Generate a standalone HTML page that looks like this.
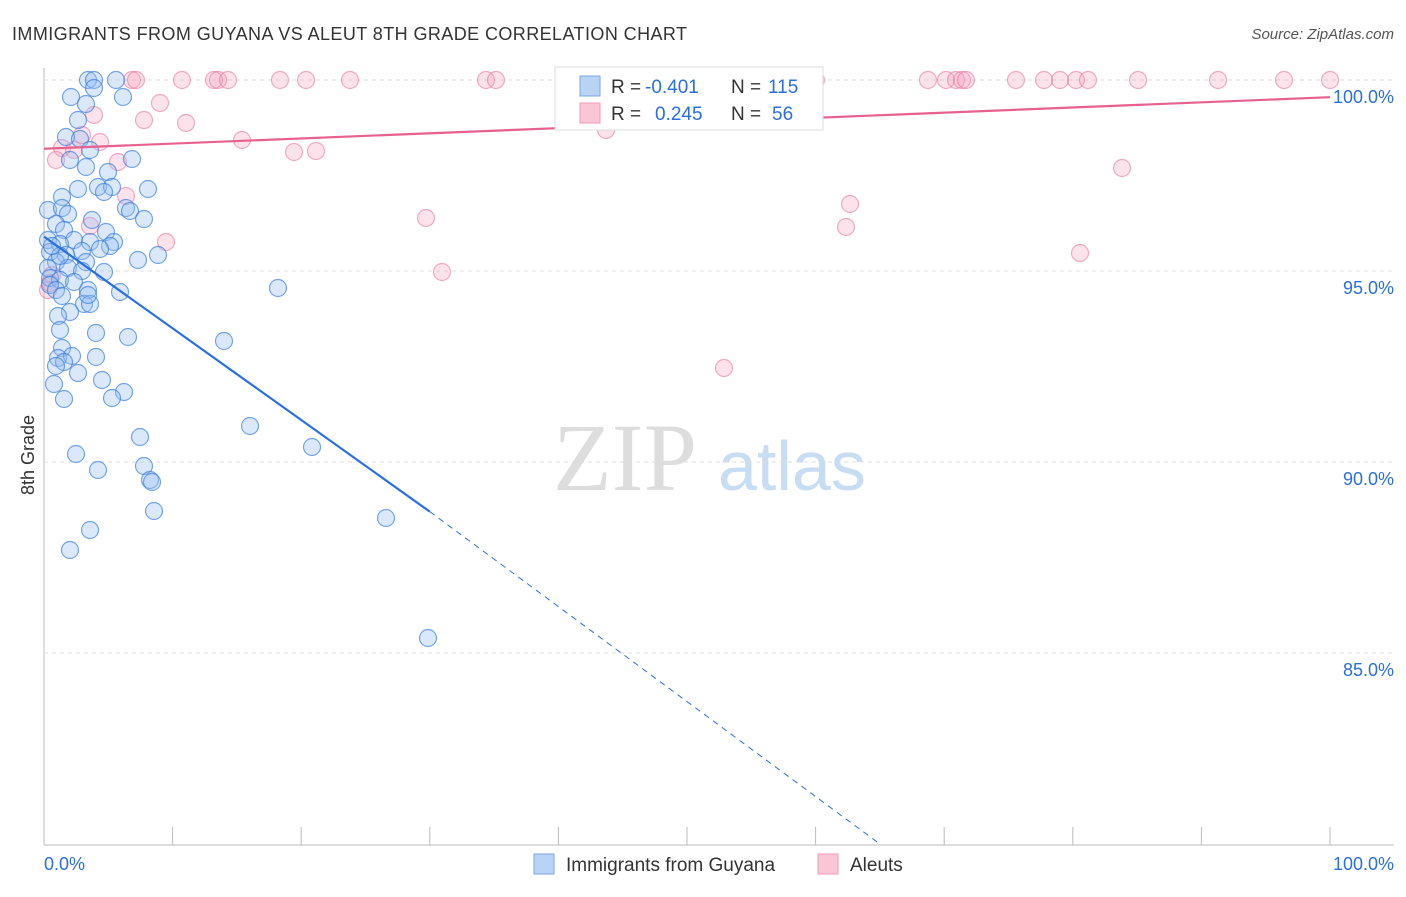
<!DOCTYPE html>
<html><head><meta charset="utf-8"><style>
body{margin:0;background:#fff;font-family:"Liberation Sans",sans-serif}
</style></head><body>
<svg id="chart" width="1406" height="892" xmlns="http://www.w3.org/2000/svg" font-family="Liberation Sans, sans-serif">
<text x="12" y="40" font-size="18" fill="#333" textLength="675">IMMIGRANTS FROM GUYANA VS ALEUT 8TH GRADE CORRELATION CHART</text>
<text x="1394" y="39" font-size="15" fill="#555" text-anchor="end" font-style="italic">Source: ZipAtlas.com</text>
<text x="553" y="490" font-size="96" fill="#ddd" font-family="Liberation Serif, serif">ZIP</text>
<text x="718" y="490" font-size="70" fill="#c8dcf2">atlas</text>
<text transform="translate(34,455) rotate(-90)" font-size="18" fill="#333" text-anchor="middle">8th Grade</text>
<g id="grid"></g><g id="pts"></g><g id="lines"></g>
<g>
<rect x="555" y="67" width="268" height="63" fill="#fff" stroke="#ddd"/>
<rect x="580" y="76" width="20" height="20" fill="#b9d3f5" stroke="#7aa7e6"/>
<rect x="580" y="103" width="20" height="20" fill="#f9c6d6" stroke="#f09ab6"/>
<text x="611" y="93" font-size="19" fill="#333">R =</text>
<text x="645" y="93" font-size="19" fill="#2a6fdb">-0.401</text>
<text x="731" y="93" font-size="19" fill="#333">N =</text>
<text x="768" y="93" font-size="19" fill="#2a6fdb">115</text>
<text x="611" y="120" font-size="19" fill="#333">R =</text>
<text x="655" y="120" font-size="19" fill="#2a6fdb">0.245</text>
<text x="731" y="120" font-size="19" fill="#333">N =</text>
<text x="772" y="120" font-size="19" fill="#2a6fdb">56</text>
</g>
<g>
<rect x="534" y="854" width="20" height="20" fill="#b9d3f5" stroke="#7aa7e6"/>
<text x="566" y="871" font-size="19" fill="#333">Immigrants from Guyana</text>
<rect x="818" y="854" width="20" height="20" fill="#f9c6d6" stroke="#f09ab6"/>
<text x="850" y="871" font-size="19" fill="#333">Aleuts</text>
</g>
<text x="44" y="870" font-size="18" fill="#2a6fdb">0.0%</text>
<text x="1394" y="870" font-size="18" fill="#2a6fdb" text-anchor="end">100.0%</text>
</svg>
<script>
const yTicks=[100,95,90,85];
const blueX=[88,94,116,94,71,123,86,78,66,80,90,70,132,86,108,98,112,148,104,62,78,126,130,48,62,92,68,144,56,64,106,74,48,60,90,114,110,100,50,82,66,158,138,56,86,48,68,82,104,50,60,74,50,56,88,120,62,84,90,278,70,58,60,96,128,224,62,58,72,96,64,56,78,102,54,124,112,64,140,250,312,76,144,98,150,152,154,386,90,70,428,88,60,52].map(p=>(p-44)/12.86);
const blueY=[80,80,80,88,97,97,104,120,137,139,150,160,159,167,172,187,187,189,192,197,189,208,211,210,208,220,214,219,224,230,232,240,240,244,242,242,246,249,252,251,255,255,260,262,262,268,268,271,272,278,280,282,285,290,290,292,296,304,304,288,312,316,330,333,337,341,348,358,356,357,362,366,373,380,384,392,398,399,437,426,447,454,466,470,480,482,511,518,530,550,638,295,256,246].map(p=>100-(p-80)/38.2);
const pinkX=[132,136,182,214,218,228,280,306,350,486,496,650,760,816,928,946,956,962,966,1016,1044,1060,1076,1088,1138,1218,1284,1330,160,94,144,186,82,242,62,74,56,100,118,294,316,606,1122,126,90,850,846,426,166,442,1080,724,48,52,50].map(p=>(p-44)/12.86);
const pinkY=[80,80,80,80,80,80,80,80,80,80,80,80,80,80,80,80,80,80,80,80,80,80,80,80,80,80,80,80,103,115,120,123,135,140,148,150,160,142,162,152,151,130,168,196,226,204,227,218,242,272,253,368,290,275,283].map(p=>100-(p-80)/38.2);
const blueTrend=[[0,95.9],[30,88.7],[65,80]];
const pinkTrend=[[0,98.2],[100,99.55]];
const sx=v=>44+v*12.86, sy=v=>80+(100-v)*38.2;
const NS="http://www.w3.org/2000/svg";
function mk(t,a,p){const e=document.createElementNS(NS,t);for(const k in a)e.setAttribute(k,a[k]);p.appendChild(e);return e;}
const grid=document.getElementById('grid');
mk('line',{x1:44,y1:68,x2:44,y2:845,stroke:'#bbb'},grid);
mk('line',{x1:44,y1:845,x2:1394,y2:845,stroke:'#bbb'},grid);
for(let i=1;i<=10;i++){mk('line',{x1:44+i*128.6,y1:827,x2:44+i*128.6,y2:845,stroke:'#bbb'},grid);}
yTicks.forEach(t=>{
 const g=mk('line',{x1:44,y1:sy(t),x2:1394,y2:sy(t),stroke:'#ddd','stroke-dasharray':'4,4'},grid);
 
 
 const tx=mk('text',{x:1394,y:sy(t)+23,'font-size':18,fill:'#2a6fdb','text-anchor':'end'},grid);
 tx.textContent=t.toFixed(1)+'%';
 
 
});
const pts=document.getElementById('pts');
pinkX.forEach((x,i)=>{const c=mk('circle',{cx:sx(x),cy:sy(pinkY[i]),r:8.5,fill:'rgba(244,160,190,0.3)',stroke:'rgba(232,120,160,0.6)','stroke-width':1.2},pts);
 
 });
blueX.forEach((x,i)=>{const c=mk('circle',{cx:sx(x),cy:sy(blueY[i]),r:8.5,fill:'rgba(150,190,240,0.35)',stroke:'rgba(50,120,220,0.65)','stroke-width':1.2},pts);
 
 });
const L=document.getElementById('lines');
const b1=mk('line',{x1:sx(blueTrend[0][0]),y1:sy(blueTrend[0][1]),x2:sx(blueTrend[1][0]),y2:sy(blueTrend[1][1]),stroke:'#2a6fdb','stroke-width':2.2},L);


const b2=mk('line',{x1:sx(blueTrend[1][0]),y1:sy(blueTrend[1][1]),x2:sx(blueTrend[2][0]),y2:sy(blueTrend[2][1]),stroke:'#2a6fdb','stroke-width':1,'stroke-dasharray':'6,5'},L);


const p1=mk('line',{x1:sx(pinkTrend[0][0]),y1:sy(pinkTrend[0][1]),x2:sx(pinkTrend[1][0]),y2:sy(pinkTrend[1][1]),stroke:'#e8608f','stroke-width':2.2},L);


</script>
</body></html>
